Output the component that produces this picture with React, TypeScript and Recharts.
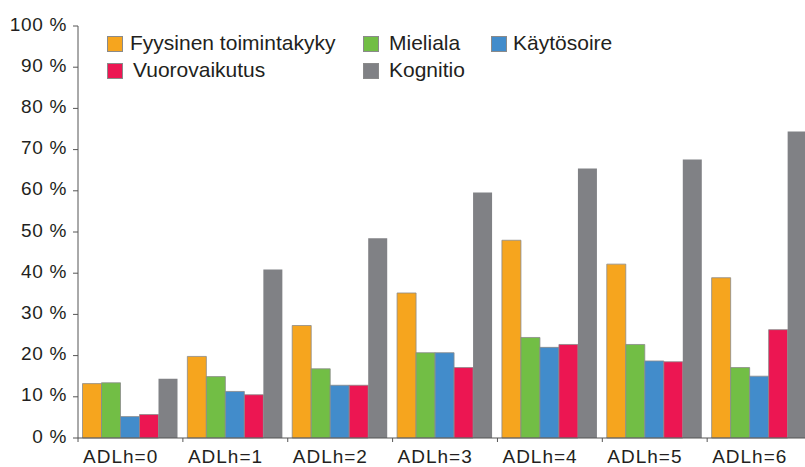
import React from 'react';
import { BarChart, Bar, XAxis, YAxis } from 'recharts';

const categories = ['ADLh=0', 'ADLh=1', 'ADLh=2', 'ADLh=3', 'ADLh=4', 'ADLh=5', 'ADLh=6'];
const fyysinen = [13.2, 19.8, 27.3, 35.2, 48.0, 42.2, 38.9];
const mieliala = [13.4, 14.9, 16.8, 20.7, 24.4, 22.7, 17.1];
const kaytosoire = [5.2, 11.3, 12.8, 20.7, 22.0, 18.7, 15.0];
const vuorovaikutus = [5.7, 10.5, 12.8, 17.1, 22.7, 18.5, 26.3];
const kognitio = [14.4, 40.9, 48.5, 59.6, 65.4, 67.6, 74.4];
const yTicks = [0, 10, 20, 30, 40, 50, 60, 70, 80, 90, 100];

const seriesNames = ['Fyysinen toimintakyky', 'Mieliala', 'Käytösoire', 'Vuorovaikutus', 'Kognitio'];
const seriesKeys = ['fyysinen', 'mieliala', 'kaytosoire', 'vuorovaikutus', 'kognitio'];
const seriesColors = ['#F6A51E', '#72BE45', '#428CCB', '#EC1652', '#808185'];

const data = categories.map((c, i) => ({
  name: c,
  fyysinen: fyysinen[i],
  mieliala: mieliala[i],
  kaytosoire: kaytosoire[i],
  vuorovaikutus: vuorovaikutus[i],
  kognitio: kognitio[i],
}));

const FONT = '"Liberation Sans", Arial, sans-serif';
const TEXT = '#231F20';
const AXIS = '#555555';
const BAND = 104.8;

const XTick = (props: any) => {
  const { x, y, payload } = props;
  return (
    <g>
      <line x1={x - BAND / 2} x2={x - BAND / 2} y1={y} y2={y + 4} stroke={AXIS} strokeWidth={1} />
      <text
        x={x - BAND / 2 + 5}
        y={y + 25}
        textAnchor="start"
        fontSize={19}
        letterSpacing={1}
        fontFamily={FONT}
        fill={TEXT}
      >
        {payload.value}
      </text>
    </g>
  );
};

const YTick = (props: any) => {
  const { x, y, payload } = props;
  return (
    <text x={x} y={y + 4.5} textAnchor="end" fontSize={19} letterSpacing={0.7} fontFamily={FONT} fill={TEXT}>
      {`${payload.value} %`}
    </text>
  );
};

const legendLayout = [
  { i: 0, sx: 107, sy: 36, tx: 130 },
  { i: 1, sx: 363, sy: 36, tx: 389 },
  { i: 2, sx: 491, sy: 36, tx: 513 },
  { i: 3, sx: 107, sy: 63, tx: 133 },
  { i: 4, sx: 363, sy: 63, tx: 389 },
];

export default function App() {
  return (
    <div style={{ position: 'absolute', left: 0, top: 0, width: 805, height: 467, overflow: 'hidden', background: '#fff' }}>
      <BarChart
        width={812}
        height={467}
        data={data}
        margin={{ top: 26, right: 0, left: 0, bottom: 0 }}
        barCategoryGap={4.5}
        barGap={0}
      >
        <YAxis
          width={78}
          domain={[0, 100]}
          ticks={yTicks}
          interval={0}
          tickSize={5}
          tickMargin={6}
          axisLine={{ stroke: AXIS, strokeWidth: 1 }}
          tickLine={{ stroke: AXIS, strokeWidth: 1 }}
          tick={<YTick />}
        />
        <XAxis
          dataKey="name"
          height={29}
          interval={0}
          tickSize={0}
          tickMargin={0}
          tickLine={false}
          axisLine={{ stroke: AXIS, strokeWidth: 1 }}
          tick={<XTick />}
        />
        {seriesKeys.map((k, i) => (
          <Bar
            key={k}
            dataKey={k}
            name={seriesNames[i]}
            fill={seriesColors[i]}
            stroke={i === 4 ? 'none' : '#8a8a8a'}
            strokeWidth={0.8}
            isAnimationActive={false}
          />
        ))}
      </BarChart>
      <div style={{ position: 'absolute', left: 0, top: 0, width: 805, height: 100, pointerEvents: 'none' }}>
        {legendLayout.map((l) => (
          <React.Fragment key={l.i}>
            <div
              style={{
                position: 'absolute',
                left: l.sx,
                top: l.sy,
                width: 14,
                height: 14,
                background: seriesColors[l.i],
                border: '0.8px solid #8a8a8a',
              }}
            />
            <div
              style={{
                position: 'absolute',
                left: l.tx,
                top: l.sy - 4,
                fontSize: 21,
                lineHeight: '21px',
                fontFamily: FONT,
                color: TEXT,
                whiteSpace: 'nowrap',
              }}
            >
              {seriesNames[l.i]}
            </div>
          </React.Fragment>
        ))}
      </div>
    </div>
  );
}
